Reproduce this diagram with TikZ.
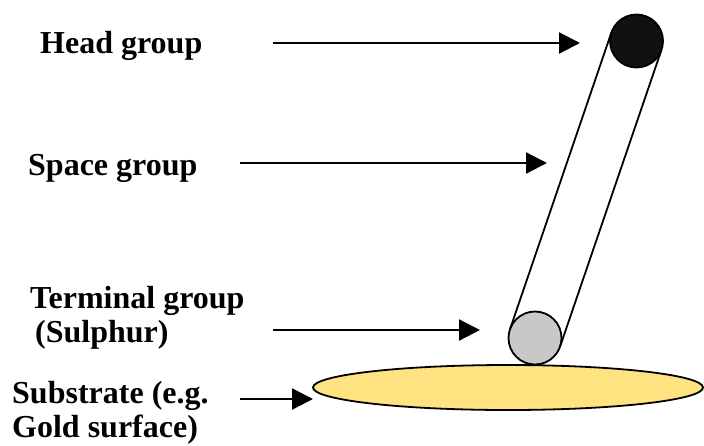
\documentclass[tikz,border=0pt]{standalone}
\usepackage{fontspec}
\setmainfont{Liberation Serif}
\usepackage{tikz}
\usetikzlibrary{shapes.geometric,arrows.meta,positioning,calc}
\usepackage{xcolor}
\definecolor{goldsurf}{RGB}{255,227,128}
\definecolor{sulphurgrey}{RGB}{200,200,200}
\definecolor{headblack}{RGB}{17,17,17}

\begin{document}
\begin{tikzpicture}[x=1pt, y=-1pt, >={Triangle[length=21pt, width=21pt]},
    lbl/.style={font=\bfseries\fontsize{32}{34}\selectfont, inner sep=0pt, anchor=base west, align=left},
    ptr/.style={->, line width=2.2pt},
    ball/.style={circle, draw, line width=1.8pt, minimum size=53pt, inner sep=0pt, outer sep=0pt}]
    \useasboundingbox[fill=white] (0,0) rectangle (704,445);
    % substrate and molecule
    \node[ellipse, draw, line width=1.8pt, fill=goldsurf, minimum width=390pt, minimum height=45pt, inner sep=0pt] (sub) at (508,387.5) {};
    \node[ball, fill=sulphurgrey] (term) at (535,338) {};
    \node[ball, fill=headblack] (head) at (636.5,41) {};
    \draw[line width=1.8pt] (head.161) -- (term.161);
    \draw[line width=1.8pt] (head.-19) -- (term.-19);
    % labels (base = last line)
    \node[lbl] (lhead) at (40,53) {Head group};
    \node[lbl] (lspace) at (28,175) {Space group};
    \node[lbl] (lterm) at (30,342) {Terminal group\\\hspace*{5pt}(Sulphur)};
    \node[lbl] (lsub) at (12,437) {Substrate (e.g.\\Gold surface)};
    % pointers
    \coordinate (hs) at (273,43);  \coordinate (he) at (580,43);
    \coordinate (ss) at (240,163); \coordinate (se) at (547,163);
    \coordinate (ts) at (273,330); \coordinate (te) at (480,330);
    \coordinate (us) at (240,399); \coordinate (ue) at (313,399);
    \draw[ptr] (hs) -- (he);
    \draw[ptr] (ss) -- (se);
    \draw[ptr] (ts) -- (te);
    \draw[ptr] (us) -- (ue);
\end{tikzpicture}
\end{document}
